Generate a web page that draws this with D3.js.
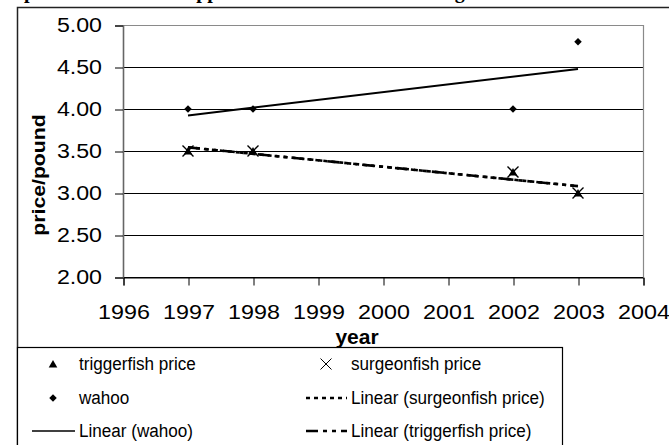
<!DOCTYPE html>
<html>
<head>
<meta charset="utf-8">
<script src="https://cdn.jsdelivr.net/npm/d3@7"></script>
<style>
  body { margin: 0; background: #fff; }
  svg { display: block; }
  text { font-family: "Liberation Sans", Arial, sans-serif; fill: #000; }
</style>
</head>
<body>
<script>
'use strict';

// values
const years = [1997, 1998, 2002, 2003];
const triggerfish = [3.50, 3.50, 3.25, 3.00];
const surgeonfish = [3.50, 3.50, 3.25, 3.00];
const wahoo = [4.00, 4.00, 4.00, 4.80];

const xTicks = [1996, 1997, 1998, 1999, 2000, 2001, 2002, 2003, 2004];
const yTicks = [2.00, 2.50, 3.00, 3.50, 4.00, 4.50, 5.00];

const legendItems = [
  { label: "triggerfish price", kind: "triangle" },
  { label: "surgeonfish price", kind: "cross" },
  { label: "wahoo", kind: "diamond" },
  { label: "Linear (surgeonfish price)", kind: "dotted" },
  { label: "Linear (wahoo)", kind: "solid" },
  { label: "Linear (triggerfish price)", kind: "dashdot" }
];

const titleText = "price of fish and snappers and wahoo at the landing";

(function() {
  const W = 669, H = 445;
  const plot = { left: 123, right: 643, top: 25, bottom: 277 };

  const svg = d3.select('body').append('svg')
    .attr('width', W)
    .attr('height', H);

  const x = d3.scaleLinear().domain([1996, 2004]).range([plot.left, plot.right]);
  const y = d3.scaleLinear().domain([2, 5]).range([plot.bottom, plot.top]);

  // title, mostly cut off at the top edge
  svg.append('text')
    .attr('x', 24)
    .attr('y', -2.5)
    .style('font-family', '"Liberation Serif", "Times New Roman", serif')
    .style('font-weight', 'bold')
    .style('font-size', '20px')
    .text(titleText);

  // chart area outline
  svg.append('path')
    .attr('d', `M17.5,${H}V7.5H${W}`)
    .attr('fill', 'none')
    .attr('stroke', '#222')
    .attr('stroke-width', 1.5);

  // gridlines
  svg.append('g').selectAll('line')
    .data(yTicks.filter(d => d < 5))
    .join('line')
      .attr('x1', plot.left).attr('x2', plot.right)
      .attr('y1', d => y(d) + 0.5).attr('y2', d => y(d) + 0.5)
      .attr('stroke', '#000')
      .attr('stroke-width', 1);

  // plot area border (top + right) in grey
  svg.append('path')
    .attr('d', `M${plot.left},${plot.top + 0.5}H${plot.right + 0.5}V${plot.bottom}`)
    .attr('fill', 'none')
    .attr('stroke', '#8a8a8a')
    .attr('stroke-width', 1.2);

  // y axis
  const yAxis = svg.append('g')
    .attr('transform', `translate(${plot.left},0.5)`)
    .call(d3.axisLeft(y).tickValues(yTicks).tickFormat(d3.format('.2f')).tickSize(8));
  yAxis.select('.domain').attr('stroke', '#666').attr('stroke-width', 1.6);
  yAxis.selectAll('.tick line').attr('stroke', '#000');
  yAxis.selectAll('.tick text')
    .attr('x', -21 / 1.16)
    .attr('transform', 'scale(1.16,1)')
    .style('font-size', '20px')
    .style('font-family', '"Liberation Sans", Arial, sans-serif');

  // x axis
  const xAxis = svg.append('g')
    .attr('transform', `translate(0.5,${plot.bottom + 0.5})`)
    .call(d3.axisBottom(x).tickValues(xTicks).tickFormat(d3.format('d')).tickSize(8).tickPadding(19));
  xAxis.select('.domain').attr('stroke', '#000');
  xAxis.selectAll('.tick line').attr('stroke', '#000');
  xAxis.selectAll('.tick text')
    .attr('transform', 'scale(1.11,1)')
    .style('font-size', '21px')
    .style('font-family', '"Liberation Sans", Arial, sans-serif');

  // axis titles
  svg.append('text')
    .attr('x', 357)
    .attr('y', 344)
    .attr('text-anchor', 'middle')
    .style('font-weight', 'bold')
    .style('font-size', '21px')
    .text('year');

  svg.append('text')
    .attr('transform', 'translate(45,175)rotate(-90)scale(1.18,1)')
    .attr('text-anchor', 'middle')
    .style('font-weight', 'bold')
    .style('font-size', '18px')
    .text('price/pound');

  // least squares trend line from the data
  function trend(xs, ys) {
    const mx = d3.mean(xs), my = d3.mean(ys);
    let sxy = 0, sxx = 0;
    xs.forEach((v, i) => { sxy += (v - mx) * (ys[i] - my); sxx += (v - mx) * (v - mx); });
    const b = sxy / sxx, a = my - b * mx;
    const x0 = d3.min(xs), x1 = d3.max(xs);
    return [[x0, a + b * x0], [x1, a + b * x1]];
  }

  const line = d3.line().x(d => x(d[0])).y(d => y(d[1]));

  const dashStyles = {
    solid: { dash: null, width: 2 },
    dotted: { dash: '4,4', width: 2.6 },
    dashdot: { dash: '12,5,4,5,4,5', width: 2.6 }
  };

  function drawTrend(values, kind) {
    const st = dashStyles[kind];
    svg.append('path')
      .attr('d', line(trend(years, values)))
      .attr('fill', 'none')
      .attr('stroke', '#000')
      .attr('stroke-width', st.width)
      .attr('stroke-dasharray', st.dash);
  }

  drawTrend(wahoo, 'solid');
  drawTrend(surgeonfish, 'dotted');
  drawTrend(triggerfish, 'dashdot');

  // markers
  const triangle = d3.symbol().type(d3.symbolTriangle).size(32);
  const diamond = d3.symbol().type(d3.symbolSquare).size(28);
  const crossPath = 'M-5.5,-5.5L5.5,5.5M-5.5,5.5L5.5,-5.5';

  function zipPts(vals) { return years.map((yr, i) => [yr, vals[i]]); }

  svg.append('g').selectAll('path')
    .data(zipPts(triggerfish))
    .join('path')
      .attr('d', triangle)
      .attr('transform', d => `translate(${x(d[0])},${y(d[1]) + 1})`)
      .attr('fill', '#000');

  svg.append('g').selectAll('path')
    .data(zipPts(wahoo))
    .join('path')
      .attr('d', diamond)
      .attr('transform', d => `translate(${x(d[0])},${y(d[1])})rotate(45)`)
      .attr('fill', '#000');

  svg.append('g').selectAll('path')
    .data(zipPts(surgeonfish))
    .join('path')
      .attr('d', crossPath)
      .attr('transform', d => `translate(${x(d[0])},${y(d[1])})`)
      .attr('fill', 'none')
      .attr('stroke', '#000')
      .attr('stroke-width', 1.4);

  // legend
  svg.append('rect')
    .attr('x', 17.5)
    .attr('y', 347.5)
    .attr('width', 562 - 17)
    .attr('height', 120)
    .attr('fill', '#fff')
    .attr('stroke', '#000')
    .attr('stroke-width', 1.2);

  const rowY = [364, 398, 431];
  const colMark = [53, 326];
  const colLine = [[32, 75], [306, 347]];
  const colText = [79, 351];

  legendItems.forEach((item, i) => {
    const col = i % 2, row = Math.floor(i / 2);
    const cy = rowY[row];
    const g = svg.append('g');
    if (item.kind === 'triangle') {
      g.append('path').attr('d', triangle).attr('transform', `translate(${colMark[col]},${cy + 1})`).attr('fill', '#000');
    } else if (item.kind === 'diamond') {
      g.append('path').attr('d', diamond).attr('transform', `translate(${colMark[col]},${cy})rotate(45)`).attr('fill', '#000');
    } else if (item.kind === 'cross') {
      g.append('path').attr('d', crossPath).attr('transform', `translate(${colMark[col]},${cy})`)
        .attr('fill', 'none').attr('stroke', '#000').attr('stroke-width', 1);
    } else {
      const st = dashStyles[item.kind];
      g.append('line')
        .attr('x1', colLine[col][0]).attr('x2', colLine[col][1])
        .attr('y1', cy).attr('y2', cy)
        .attr('stroke', '#000')
        .attr('stroke-width', item.kind === 'solid' ? 1.6 : 2.6)
        .attr('stroke-dasharray', st.dash);
    }
    g.append('text')
      .attr('transform', `translate(${colText[col]},${cy + 6})scale(0.9,1)`)
      .style('font-size', '19px')
      .text(item.label);
  });
})();
</script>
</body>
</html>
